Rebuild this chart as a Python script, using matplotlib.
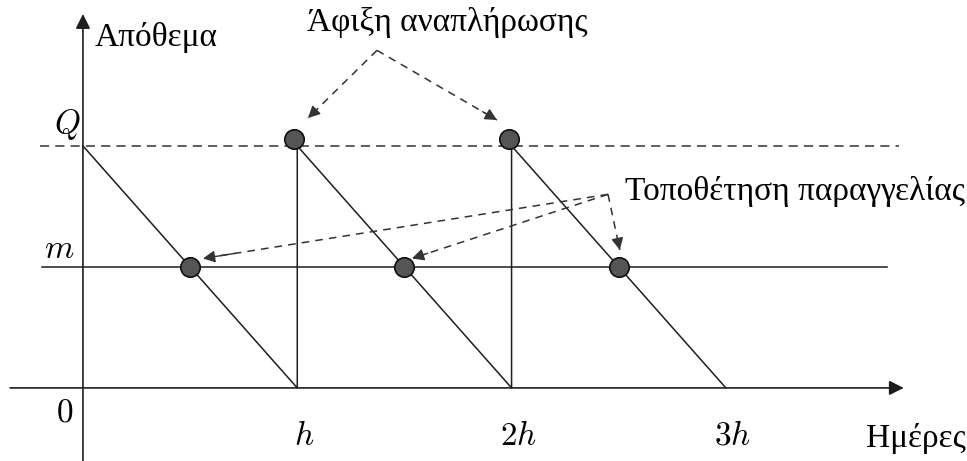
import matplotlib
matplotlib.use("Agg")
import numpy as np
from matplotlib import pyplot as plt
from matplotlib import transforms as mtransforms

plt.rcParams['font.family'] = ['Liberation Serif', 'DejaVu Serif']
plt.rcParams['mathtext.fontset'] = 'cm'

# inventory model: Q = order size, m = reorder level, h = cycle length
Q = 1.0
m = 0.5
cycles = [0, 1, 2, 3]
saw_x = [0, 1, 1, 2, 2, 3]
saw_y = [Q, 0, Q, 0, Q, 0]
arrival_x = [1, 2]
arrival_y = [Q, Q]
order_x = [0.5, 1.5, 2.5]
order_y = [m, m, m]
tick_labels = ['$0$', '$h$', '$2h$', '$3h$']

line_col = '#1e1e1e'
dot_col = '#555555'

fig = plt.figure(figsize=(9.67, 4.61), dpi=100)
ax = fig.add_axes([0, 0, 1, 1])
ax.set_xlim(-0.387, 4.125)
ax.set_ylim(-0.302, 1.603)
ax.axis('off')

# axes with arrows
ax.annotate('', xy=(3.83, 0), xytext=(-0.34, 0),
            arrowprops=dict(arrowstyle='-|>', color=line_col, lw=1.2,
                            mutation_scale=22, shrinkA=0, shrinkB=0))
ax.annotate('', xy=(0, 1.545), xytext=(0, -0.31),
            arrowprops=dict(arrowstyle='-|>', color=line_col, lw=1.2,
                            mutation_scale=22, shrinkA=0, shrinkB=0))

# Q level (dashed) and reorder level m
ax.plot([-0.2, 3.81], [Q, Q], ls=(0, (6, 4)), color='#333333', lw=1.1)
ax.plot([-0.19, 3.75], [m, m], color=line_col, lw=1.1)

# sawtooth inventory
ax.plot(saw_x, saw_y, color=line_col, lw=1.1)

# points
up = mtransforms.offset_copy(ax.transData, fig=fig, x=-3, y=7, units='dots')
ax.plot(arrival_x, arrival_y, 'o', ms=14, mfc=dot_col, mec='#111111',
        mew=1.2, transform=up, zorder=5)
ax.plot(order_x, order_y, 'o', ms=14, mfc=dot_col, mec='#111111',
        mew=1.2, zorder=5)

# labels
fs = 24
ax.text(0.056, 1.446, 'Απόθεμα', fontsize=fs, va='center', ha='left')
ax.text(-0.075, 1.087, '$Q$', fontsize=fs, va='center', ha='center')
ax.text(-0.11, 0.57, '$m$', fontsize=fs, va='center', ha='center')
ax.text(-0.084, -0.103, tick_labels[0], fontsize=fs, va='center', ha='center')
for c, lab in zip(cycles[1:], tick_labels[1:]):
    ax.text(c + 0.03, -0.2, lab, fontsize=fs, va='center', ha='center')
ax.text(3.655, -0.207, 'Ημέρες', fontsize=fs, va='center', ha='left')

# "Άφιξη αναπλήρωσης" annotation
ax.text(1.70, 1.51, 'Άφιξη αναπλήρωσης', fontsize=fs, va='center', ha='center')
apex = (1.372, 1.395)
for tip in [(1.05, 1.115), (1.932, 1.107)]:
    ax.plot([apex[0], tip[0]], [apex[1], tip[1]], ls=(0, (5, 4)),
            color='#333333', lw=1.1)
    d = np.array(tip) - np.array(apex)
    back = np.array(tip) - 0.12 * d
    ax.annotate('', xy=tip, xytext=back,
                arrowprops=dict(arrowstyle='-|>', color='#333333', lw=1.0,
                                mutation_scale=18, shrinkA=0, shrinkB=0))

# "Τοποθέτηση παραγγελίας" annotation
ax.text(2.53, 0.81, 'Τοποθέτηση παραγγελίας', fontsize=fs, va='center', ha='left')
corner = (2.45, 0.80)
for tip in [(0.56, 0.535), (1.535, 0.535), (2.505, 0.57)]:
    ax.plot([corner[0], tip[0]], [corner[1], tip[1]], ls=(0, (5, 4)),
            color='#333333', lw=1.1)
    d = np.array(tip) - np.array(corner)
    back = np.array(tip) - min(0.08, 0.5 / np.hypot(*d) * 0.08 * 6) * d
    ax.annotate('', xy=tip, xytext=back,
                arrowprops=dict(arrowstyle='-|>', color='#333333', lw=1.0,
                                mutation_scale=18, shrinkA=0, shrinkB=0))

fig.savefig('out.png', dpi=100)
